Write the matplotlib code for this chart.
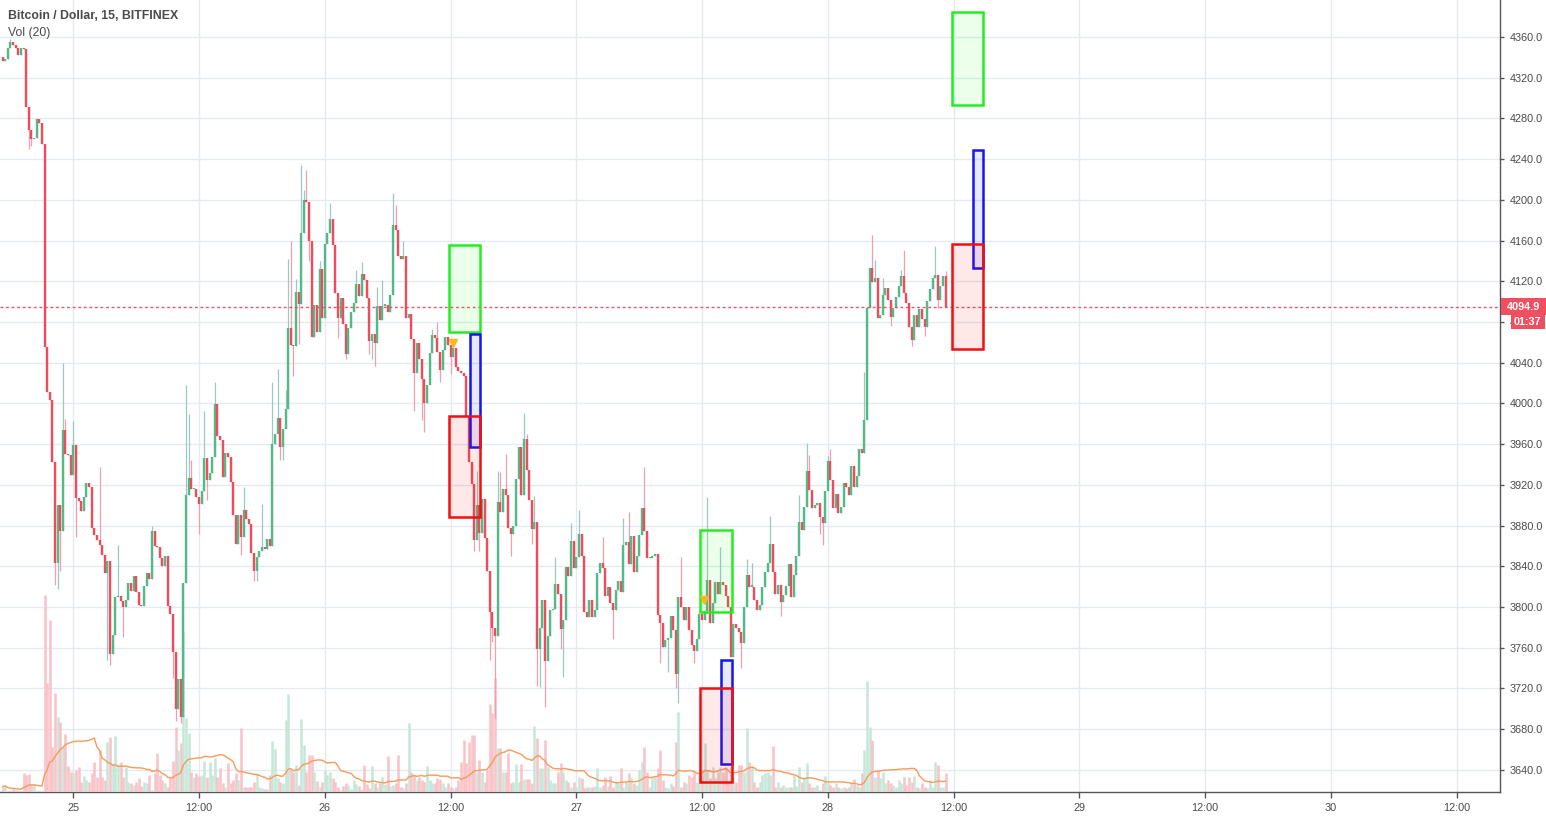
import matplotlib.pyplot as plt
import matplotlib.dates as mdates
import matplotlib.transforms as mtransforms
from matplotlib.patches import Rectangle
import numpy as np
import pandas as pd

plt.rcParams['font.family'] = ['Liberation Sans', 'DejaVu Sans']

# BTC/USD 15 min candles, first one at Nov 24 17:15
first_open = 4340
closes = [
    4336, 4338, 4349, 4355, 4352, 4349, 4342, 4349, 4348, 4291,
    4269, 4260, 4261, 4279, 4275, 4255, 4055, 4011, 4003, 3942,
    3843, 3900, 3875, 3974, 3950, 3949, 3930, 3959, 3907, 3904,
    3894, 3908, 3922, 3918, 3878, 3871, 3866, 3861, 3851, 3833,
    3845, 3754, 3773, 3810, 3811, 3806, 3800,
    3807, 3824, 3816, 3830, 3815, 3802, 3801, 3821, 3833, 3828,
    3875, 3860, 3859, 3848, 3840, 3850, 3801, 3793, 3756, 3700,
    3729, 3692, 3824, 3910, 3927, 3916, 3916, 3908, 3901, 3914,
    3946, 3925, 3932, 3947, 3999, 3968, 3964, 3928, 3951, 3947,
    3923, 3890, 3862, 3890, 3869, 3895,
    3886, 3882, 3853, 3835, 3849, 3855, 3859, 3857, 3867, 3860,
    3960, 3970, 3986, 3957, 3975, 3995, 4074, 4057, 4056, 4109,
    4098, 4167, 4200, 4198, 4160, 4065, 4097, 4070, 4132, 4084,
    4157, 4167, 4181, 4156, 4108, 4084, 4104, 4078, 4049, 4074,
    4090, 4099, 4117, 4106, 4127, 4121, 4104,
    4061, 4068, 4059, 4096, 4082, 4096, 4097, 4090, 4107, 4175,
    4170, 4145, 4142, 4145, 4084, 4088, 4063, 4030, 4059, 4044,
    4024, 4000, 4018, 4050, 4067, 4064, 4051, 4033, 4052, 4065,
    4057, 4046, 4054, 4036, 4032, 4030, 4027, 3988, 3942, 3921,
    3866, 3900, 3873, 3906,
    3868, 3835, 3795, 3779, 3772, 3903, 3893, 3916, 3910, 3878,
    3872, 3880, 3926, 3957, 3910, 3965, 3935, 3905, 3877, 3884,
    3759, 3779, 3807, 3747, 3772, 3797, 3798, 3823, 3813, 3778,
    3787, 3839, 3830, 3865, 3838, 3849, 3872, 3850, 3795, 3790,
    3807, 3790, 3797, 3833, 3843,
    3838, 3811, 3820, 3804, 3797, 3817, 3826, 3815, 3861, 3864,
    3842, 3870, 3834, 3850, 3871, 3897, 3875, 3848, 3848, 3850,
    3852, 3792, 3784, 3761, 3768, 3770, 3791, 3777, 3734, 3810,
    3800, 3787, 3800, 3777, 3763, 3757, 3769, 3793, 3787, 3796,
    3827, 3784, 3804, 3825, 3813,
    3825, 3822, 3811, 3800, 3751, 3783, 3779, 3775, 3765, 3800,
    3831, 3820, 3820, 3807, 3797, 3802, 3820, 3834, 3843, 3862,
    3834, 3813, 3822, 3805, 3812, 3821, 3842, 3810, 3831, 3850,
    3884, 3876, 3898, 3934, 3915, 3897, 3900, 3902, 3888, 3883,
    3914, 3943, 3925, 3897, 3911, 3892, 3898,
    3922, 3918, 3910, 3939, 3918, 3929, 3955, 3951, 3984, 4094,
    4133, 4119, 4123, 4084, 4087, 4107, 4113, 4102, 4085, 4094,
    4105, 4115, 4125, 4108, 4099, 4075, 4062, 4087, 4075, 4093,
    4083, 4075, 4101, 4112, 4123, 4126, 4102, 4115, 4125, 4095,
]

volumes = [
    16, 20, 4, 6, 8, 5, 3, 3, 58, 50, 55, 25, 25, 3, 2, 2,
    591, 326, 516, 136, 296, 226, 211, 136, 174, 78,
    61, 58, 66, 76, 31, 48, 36, 31, 58, 91,
    46, 126, 46, 36, 151, 166, 86, 168, 81, 91,
    46, 76, 31, 28, 21, 31, 43, 18, 31, 28,
    51, 6, 58, 118, 51, 36, 28, 16, 41, 94,
    196, 126, 146, 481, 221, 176, 61, 46, 56, 48,
    51, 94, 46, 91, 51, 101, 46, 71, 26, 14,
    88, 26, 36, 56, 36, 193, 16, 16, 16, 16,
    31, 58, 16, 13, 8, 8, 51, 154, 128, 41,
    31, 28, 216, 294, 66, 61, 81, 20,
    219, 141, 61, 111, 111, 61, 34, 16, 31, 66, 51, 61, 41, 31, 16, 6, 18, 28,
    21, 8, 36, 23, 18, 8, 81, 23, 11, 78, 26, 16, 26, 46, 23, 108, 18, 21, 26, 111,
    15,
    11, 26, 208, 61, 51, 36, 46, 36, 31, 78, 36, 26, 28, 41, 38, 26, 16, 26, 16, 11,
    16, 36, 91, 156, 86, 151, 171, 171, 61,
    96, 61, 31, 66, 264, 236, 341, 131, 131, 61,
    61, 116, 26, 31, 84, 31, 84, 38, 39, 39,
    26, 198, 161, 71, 71, 156, 76, 36, 28, 28,
    61, 86, 61, 36, 31, 16, 31, 16, 46, 41,
    11, 16, 14, 16, 18, 71, 16, 21, 46, 18,
    48, 16, 31, 26, 71, 16, 31, 56, 46, 28, 20,
    66, 91, 136, 61, 16, 46, 46, 71, 126, 36,
    16, 11, 26, 18, 151, 241, 16, 31, 26, 51,
    46, 61, 31, 51, 66, 146, 66, 41, 76, 41,
    61, 76, 61, 76, 31, 76, 46, 31, 81, 81,
    61, 191, 91, 81, 31, 16, 31, 51, 56, 61,
    51, 138, 16, 31, 16, 21, 16, 16, 16, 51, 18,
    76, 31, 46, 86, 26, 16, 16, 21, 6, 26,
    48, 31, 21, 16, 26, 16, 13, 16, 11, 16,
    26, 38, 21, 16, 58, 126, 334, 196, 156, 46,
    66, 41, 61, 26, 36, 28, 21, 16, 36, 26,
    46, 21, 46, 31, 48, 16, 11, 26, 16, 11,
    36, 16, 91, 81, 16, 14, 58,
]

# long wicks that stand out (candle index -> price)
wick_hi = {
    3: 4358, 23: 4040, 24: 3985, 27: 3983, 37: 3938, 44: 3861, 57: 3880,
    70: 4018, 71: 3990, 72: 3944, 77: 3993, 81: 4021, 92: 3918, 99: 3901,
    103: 4021, 105: 4034, 108: 4013, 109: 4142, 110: 4160, 112: 4122,
    114: 4234, 115: 4210, 116: 4229, 121: 4140, 125: 4197, 135: 4131,
    137: 4139, 143: 4114, 145: 4121, 149: 4207, 150: 4195, 153: 4160,
    164: 4073, 166: 4080, 181: 3934, 189: 3934, 190: 3933, 192: 3950,
    199: 3991, 200: 3970, 203: 3909, 211: 3849, 217: 3883, 220: 3895,
    229: 3869, 237: 3887, 239: 3893, 245: 3938, 259: 3849, 269: 3908,
    274: 3859, 284: 3847, 286: 3843, 293: 3889, 304: 3910, 307: 3961,
    308: 3949, 315: 3948, 316: 3955, 329: 4031, 332: 4165, 333: 4141,
    336: 4123, 343: 4131, 344: 4151, 356: 4155, 360: 4130,
}
wick_lo = {
    10: 4250, 11: 4253, 20: 3822, 21: 3818, 22: 3835, 28: 3869, 40: 3748,
    41: 3743, 46: 3771, 65: 3730, 66: 3688, 68: 3686, 75: 3872, 78: 3905,
    91: 3851, 96: 3826, 97: 3826, 106: 3944, 107: 3944, 111: 4027,
    113: 4058, 117: 4140, 128: 4064, 131: 4044, 140: 4049, 141: 4044,
    142: 4037, 157: 3993, 160: 3984, 161: 3972, 167: 4021, 171: 4029,
    180: 3855, 182: 3855, 186: 3748, 187: 3766, 188: 3691, 194: 3850,
    202: 3862, 204: 3722, 205: 3721, 207: 3702, 213: 3759, 214: 3731,
    233: 3769, 251: 3745, 254: 3736, 257: 3720, 258: 3706, 264: 3745,
    282: 3740, 297: 3791, 312: 3872, 313: 3861, 339: 4076, 347: 4056,
    352: 4066, 357: 4094,
}

# drawn position boxes (target / entry / stop)
box_start = ['2018-11-26 11:50', '2018-11-26 13:50', '2018-11-26 11:50',
             '2018-11-27 11:50', '2018-11-27 13:50', '2018-11-27 11:50',
             '2018-11-28 11:50', '2018-11-28 13:50', '2018-11-28 11:50']
box_end = ['2018-11-26 14:50'] * 3 + ['2018-11-27 14:50'] * 3 + ['2018-11-28 14:50'] * 3
box_low = [4070, 3957, 3888, 3795, 3646, 3628, 4293, 4133, 4053]
box_high = [4156, 4068, 3988, 3876, 3748, 3720, 4385, 4249, 4157]
box_kind = ['target', 'entry', 'stop'] * 3

signal_times = ['2018-11-26 12:12', '2018-11-27 12:11']
signal_prices = [4059, 3807]

last_price = 4094.9
countdown = '01:37'

day_ticks = pd.date_range('2018-11-25 00:00', '2018-11-30 12:00', freq='12h')
day_labels = [str(d.day) if d.hour == 0 else '12:00' for d in day_ticks]
price_ticks = list(range(3640, 4400, 40))

# ---------------------------------------------------------------
times = pd.date_range('2018-11-24 17:15', periods=len(closes), freq='15min')
x = mdates.date2num(times)
c = np.array(closes, dtype=float)
o = np.r_[first_open, c[:-1]]
hi = np.array([max(o[i], c[i], wick_hi.get(i, 0)) for i in range(len(c))])
lo = np.array([min(o[i], c[i], wick_lo.get(i, 1e9)) for i in range(len(c))])
up = c >= o
vol = np.array(volumes, dtype=float)
vol_ma = pd.Series(vol).rolling(20, min_periods=1).mean()

UP, DN = '#53b987', '#eb4d5c'
UP_W, DN_W = '#9cc8c3', '#f1a0aa'
UP_V, DN_V = '#c6e7d8', '#f8c3c9'
TXT = '#4a4a4a'
box_colors = {'target': '#22ee22', 'entry': '#1515f0', 'stop': '#f01010'}
box_fill = {'target': (0, 1, 0, 0.08), 'entry': (0, 0, 1, 0.09), 'stop': (1, 0, 0, 0.09)}

fig = plt.figure(figsize=(15.46, 8.18), dpi=100, facecolor='white')
rect = [0, 26 / 818, 1500 / 1546, 792 / 818]
axg = fig.add_axes(rect)
axv = fig.add_axes(rect, sharex=axg)
ax = fig.add_axes(rect, sharex=axg, sharey=axg)

# background axes: grid and scales
axg.set_xlim(mdates.date2num(pd.Timestamp('2018-11-24 17:00')),
             mdates.date2num(pd.Timestamp('2018-11-30 16:09')))
axg.set_ylim(3618.3, 4396.3)
axg.set_xticks(mdates.date2num(day_ticks))
axg.set_xticklabels(day_labels)
axg.set_yticks(price_ticks)
axg.set_yticklabels([f'{p:.1f}' for p in price_ticks])
axg.yaxis.tick_right()
axg.grid(True, color='#e3ebf1', lw=1)
axg.tick_params(axis='x', length=4, width=1, color='#555555', labelsize=7.8,
                labelcolor=TXT, pad=4)
axg.tick_params(axis='y', length=3, width=1, color='#555555', labelsize=7.8,
                labelcolor=TXT, pad=4)
for s in ['top', 'left']:
    axg.spines[s].set_visible(False)
for s in ['bottom', 'right']:
    axg.spines[s].set_color('#555555')
    axg.spines[s].set_linewidth(1)

# volume
axv.vlines(x, 0, vol, colors=np.where(up, UP_V, DN_V), lw=1.85, capstyle='butt')
axv.plot(x, vol_ma, color='#f89a5a', lw=1)
axv.set_ylim(0, 2376)
axv.axis('off')
axv.patch.set_visible(False)

# candles
ax.vlines(x, lo, hi, colors=np.where(up, UP_W, DN_W), lw=0.9, zorder=2)
body_top = np.maximum(o, c)
body_bot = np.minimum(o, c)
ax.vlines(x, body_bot, np.maximum(body_top, body_bot + 1.2), colors=np.where(up, UP, DN),
          lw=1.7, capstyle='butt', zorder=3)
ax.axhline(last_price, color='#f0505f', lw=1, ls=(0, (2, 2)), zorder=4)

for s0, s1, b0, b1, k in zip(box_start, box_end, box_low, box_high, box_kind):
    x0 = mdates.date2num(pd.Timestamp(s0))
    x1 = mdates.date2num(pd.Timestamp(s1))
    ax.add_patch(Rectangle((x0, b0), x1 - x0, b1 - b0, fc=box_fill[k],
                           ec=box_colors[k], lw=1.8, zorder=5))

ax.plot(mdates.date2num(pd.to_datetime(signal_times)), signal_prices, 'v',
        color='#f6b81c', ms=5.5, zorder=6)
ax.axis('off')
ax.patch.set_visible(False)

# last price / countdown tags on the price scale
trans = mtransforms.blended_transform_factory(axg.transAxes, axg.transData)
ax.add_patch(Rectangle((1.0005, last_price - 8.3), 0.0302, 16.6, transform=trans,
                       fc='#ef4f5e', ec='none', clip_on=False, zorder=10))
ax.text(1.0155, last_price, f'{last_price:.1f}', transform=trans, ha='center',
        va='center', color='white', fontsize=7.8, fontweight='bold', clip_on=False, zorder=11)
ax.add_patch(Rectangle((1.0071, last_price - 22.0), 0.0229, 13.8, transform=trans,
                       fc='#ef4f5e', ec='none', clip_on=False, zorder=10))
ax.text(1.0186, last_price - 15.1, countdown, transform=trans, ha='center',
        va='center', color='white', fontsize=7.8, fontweight='bold', clip_on=False, zorder=11)

fig.text(8 / 1546, 1 - 16 / 818, 'Bitcoin / Dollar, 15, BITFINEX', ha='left', va='center',
         fontsize=8.8, fontweight='bold', color=TXT)
fig.text(8 / 1546, 1 - 33 / 818, 'Vol (20)', ha='left', va='center',
         fontsize=8.8, color=TXT)

fig.savefig('out.png', dpi=100, facecolor='white')
